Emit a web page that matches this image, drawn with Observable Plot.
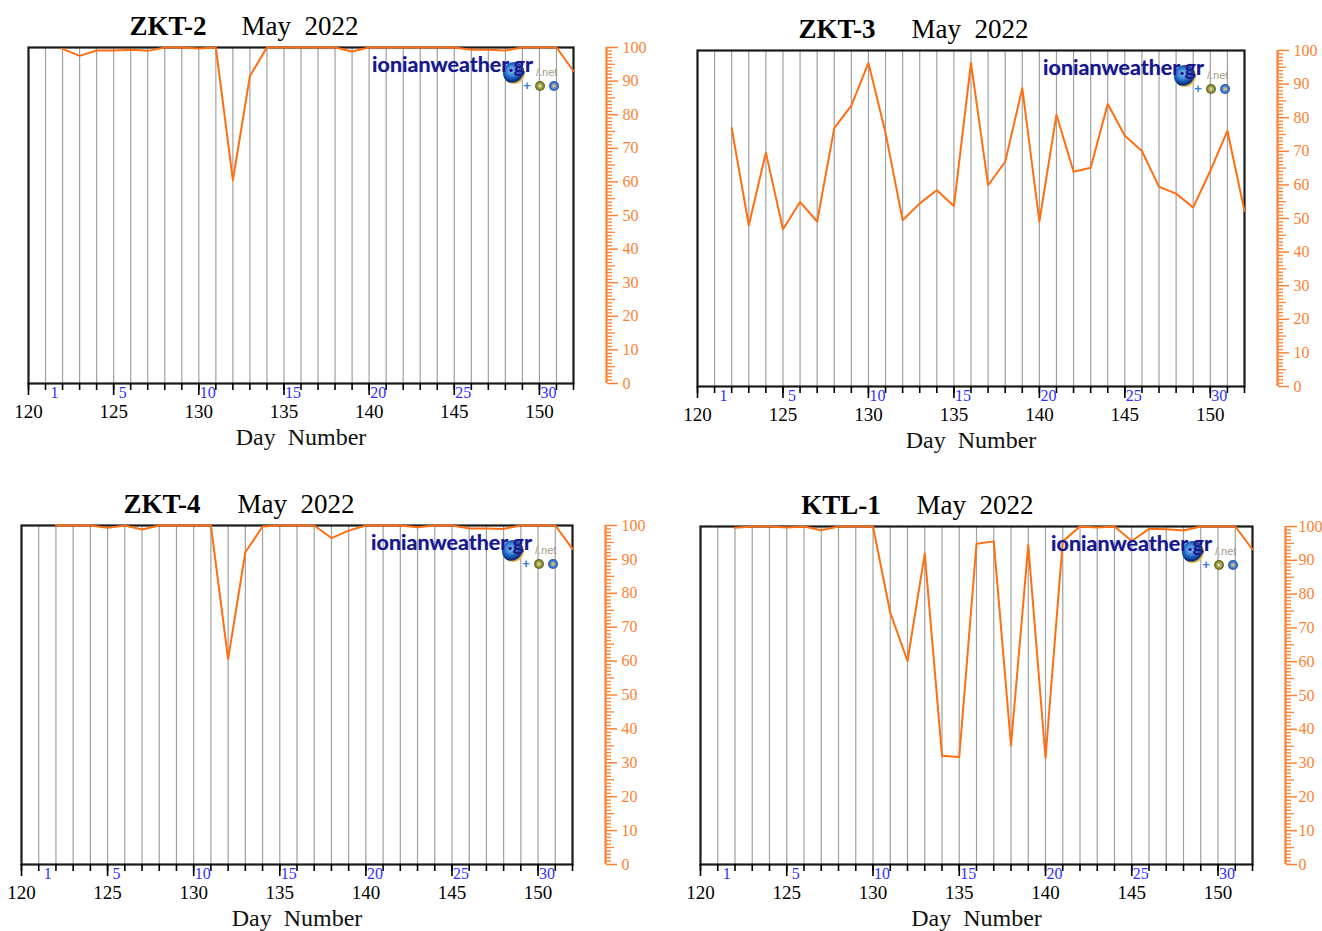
<!DOCTYPE html>
<html>
<head>
<meta charset="utf-8">
<script src="https://cdn.jsdelivr.net/npm/d3@7"></script>
<script src="https://cdn.jsdelivr.net/npm/@observablehq/plot@0.6"></script>
<style>
  body { margin: 0; background: #fff; }
  #root { position: relative; width: 1322px; height: 931px; overflow: hidden; background: #fff; font-family: "Liberation Serif", serif; }
  .t { position: absolute; transform: translate(-50%, -50%); white-space: pre; font-size: 27px; color: #000; line-height: 1; }
  .b { font-weight: bold; }
  .wrap { position: absolute; }
  .logo { position: absolute; font-family: Lato, "Open Sans", sans-serif; font-weight: bold; font-size: 21.5px; color: #17178c; white-space: nowrap; line-height: 1; transform: translate(-100%, -50%); text-shadow: 0 0 1px #8888cc; }
  .net { position: absolute; font-family: "Liberation Sans", sans-serif; font-size: 11px; color: #a09a88; transform: translate(0, -50%); white-space: nowrap; }
  .globe { position: absolute; width: 22px; height: 22px; border-radius: 50%; transform: translate(-50%, -50%);
           background: radial-gradient(circle at 40% 40%, #7fd0ff 0%, #1b5fc0 40%, #0a2a70 60%, #e8b84a 68%, #f5dd9a 84%, rgba(255,255,255,0) 100%); }
  .plus { position: absolute; font-family: "Liberation Sans", sans-serif; font-size: 13px; font-weight: bold; color: #3a7bd5; transform: translate(-50%, -50%); }
  .dot { position: absolute; width: 10px; height: 10px; border-radius: 50%; transform: translate(-50%, -50%); }
</style>
</head>
<body>
<div id="root"></div>
<script>
// ---------------- data ----------------
const days = [122,123,124,125,126,127,128,129,130,131,132,133,134,135,136,137,138,139,140,141,142,143,144,145,146,147,148,149,150,151,152];

const zkt2 = [99.6,97.5,99.1,99.1,99.3,99.0,100,100,99.7,100,60.5,91.5,100,100,100,100,100,98.8,100,100,100,100,100,100,99.3,99.3,99.1,100,100,100,93.0];
const zkt3 = [76.9,48.0,69.6,46.8,54.9,49.1,76.9,83.6,96.3,75.5,49.5,54.5,58.4,53.7,96.3,59.9,66.9,88.8,49.1,80.9,63.9,65.1,84.1,74.6,70.1,59.4,57.4,53.3,64.2,76.1,52.2];
const zkt4 = [100,100,100,99.3,100,98.8,100,100,100,100,60.6,92.1,99.7,100,100,100,96.3,98.5,100,100,100,99.5,100,100,99.1,99.1,99.0,100,100,100,93.1];
const ktl1 = [99.6,100,100,99.7,100,98.9,100,100,100,74.5,60.2,92.0,32.2,31.8,94.9,95.6,35.2,94.5,31.5,95.6,100,99.7,100,95.7,99.3,99.2,98.8,100,100,100,93.2];

const stations = ["ZKT-2", "ZKT-3", "ZKT-4", "KTL-1"];
const monthTitle = "May  2022";
const xLabel = "Day  Number";

const xDomain = [120, 152];
const yDomain = [0, 100];
const gridDays = [121,122,123,124,125,126,127,128,129,130,131,132,133,134,135,136,137,138,139,140,141,142,143,144,145,146,147,148,149,150,151];
const allXTicks = [120,121,122,123,124,125,126,127,128,129,130,131,132,133,134,135,136,137,138,139,140,141,142,143,144,145,146,147,148,149,150,151,152];
const majorXTicks = [120,125,130,135,140,145,150];
const mayDayNumbers = [121,125,130,135,140,145,150];
const mayDayLabels = ["1","5","10","15","20","25","30"];
const yMajor = [0,10,20,30,40,50,60,70,80,90,100];
const yMid = [5,15,25,35,45,55,65,75,85,95];
const yMinor = [1,2,3,4,6,7,8,9,11,12,13,14,16,17,18,19,21,22,23,24,26,27,28,29,31,32,33,34,36,37,38,39,41,42,43,44,46,47,48,49,51,52,53,54,56,57,58,59,61,62,63,64,66,67,68,69,71,72,73,74,76,77,78,79,81,82,83,84,86,87,88,89,91,92,93,94,96,97,98,99];

const seriesList = [zkt2, zkt3, zkt4, ktl1];

// ---------------- layout ----------------
const LINE = "#ff6f12";
const AX = "#ff8030";
const layout = [
  {L: 28,  R: 573,  T: 47,  B: 383, titleY: 26,  nameX: 168, monthX: 300, pad: 5},
  {L: 697, R: 1244, T: 50,  B: 386, titleY: 29,  nameX: 837, monthX: 970, pad: 5},
  {L: 21,  R: 572,  T: 525, B: 864, titleY: 504, nameX: 162, monthX: 296, pad: 5},
  {L: 700, R: 1252, T: 526, B: 864, titleY: 505, nameX: 841, monthX: 975, pad: 2}
];

const root = document.getElementById("root");
const W = 661;

function add(cls, css, text) {
  const el = document.createElement("div");
  el.className = cls;
  Object.assign(el.style, css);
  if (text != null) el.textContent = text;
  root.appendChild(el);
  return el;
}

layout.forEach((g, k) => {
  const values = seriesList[k];
  const data = days.map((d, i) => ({day: d, v: values[i]}));
  const mayMarks = mayDayNumbers.map((d, i) => ({day: d, label: mayDayLabels[i]}));
  const svgLeft = g.L < W ? 0 : W;
  const mt = 14, mb = 72;
  const svgTop = g.T - mt;
  const height = g.B + mb - svgTop;

  const chart = Plot.plot({
    width: W,
    height,
    marginLeft: g.L - svgLeft,
    marginRight: svgLeft + W - g.R,
    marginTop: mt,
    marginBottom: mb,
    x: {domain: xDomain, label: null},
    y: {domain: yDomain, label: null},
    style: {fontFamily: "Liberation Serif, serif", fontSize: "19px", color: "black", background: "transparent", overflow: "visible"},
    marks: [
      Plot.ruleX(gridDays, {stroke: "#a0a0a0", strokeWidth: 1.2}),
      Plot.frame({stroke: "#1a1a1a", strokeWidth: 2.2}),
      Plot.line(data, {x: "day", y: "v", stroke: LINE, strokeWidth: 2}),
      Plot.axisX(allXTicks, {tickSize: 7, tickFormat: () => "", strokeWidth: 1.6, label: null}),
      Plot.axisX(majorXTicks, {tickSize: 12, tickPadding: 9, fontSize: 19, strokeWidth: 1.6, label: null}),
      Plot.text(mayMarks, {x: "day", text: "label", frameAnchor: "bottom", lineAnchor: "top", dy: 3, dx: 9, fill: "#3030ff", fontSize: 16}),
      Plot.text([xLabel], {frameAnchor: "bottom", lineAnchor: "middle", dy: 54, fontSize: 24, fill: "#111"}),
      Plot.ruleX([xDomain[1]], {y1: yDomain[0], y2: yDomain[1], dx: 33, stroke: AX, strokeWidth: 2.2}),
      Plot.axisY(yMinor, {anchor: "right", dx: 33, tickSize: 5, tickFormat: () => "", stroke: AX, strokeWidth: 1.3, label: null}),
      Plot.axisY(yMid, {anchor: "right", dx: 33, tickSize: 8, tickFormat: () => "", stroke: AX, strokeWidth: 1.3, label: null}),
      Plot.axisY(yMajor, {anchor: "right", dx: 33, tickSize: 11, tickPadding: g.pad, stroke: AX, strokeWidth: 1.5, fill: AX, fontSize: 16, label: null})
    ]
  });
  const wrap = document.createElement("div");
  wrap.className = "wrap";
  wrap.style.left = svgLeft + "px";
  wrap.style.top = svgTop + "px";
  wrap.appendChild(chart);
  root.appendChild(wrap);

  // titles
  add("t b", {left: g.nameX + "px", top: g.titleY + "px"}, stations[k]);
  add("t", {left: g.monthX + "px", top: g.titleY + "px"}, monthTitle);

  // watermark logo
  add("globe", {left: (g.R - 59) + "px", top: (g.T + 26) + "px"});
  add("logo", {left: (g.R - 40) + "px", top: (g.T + 18) + "px"}, "ionianweather.gr");
  add("net", {left: (g.R - 37) + "px", top: (g.T + 25) + "px"}, "/.net");
  add("plus", {left: (g.R - 46) + "px", top: (g.T + 38) + "px"}, "+");
  add("dot", {left: (g.R - 33) + "px", top: (g.T + 39) + "px", background: "radial-gradient(circle, #e8e8c0 0%, #8a8a30 45%, #303010 100%)"});
  add("dot", {left: (g.R - 19) + "px", top: (g.T + 39) + "px", background: "radial-gradient(circle, #ffd070 0%, #3070d0 50%, #203070 100%)"});
});
</script>
</body>
</html>
